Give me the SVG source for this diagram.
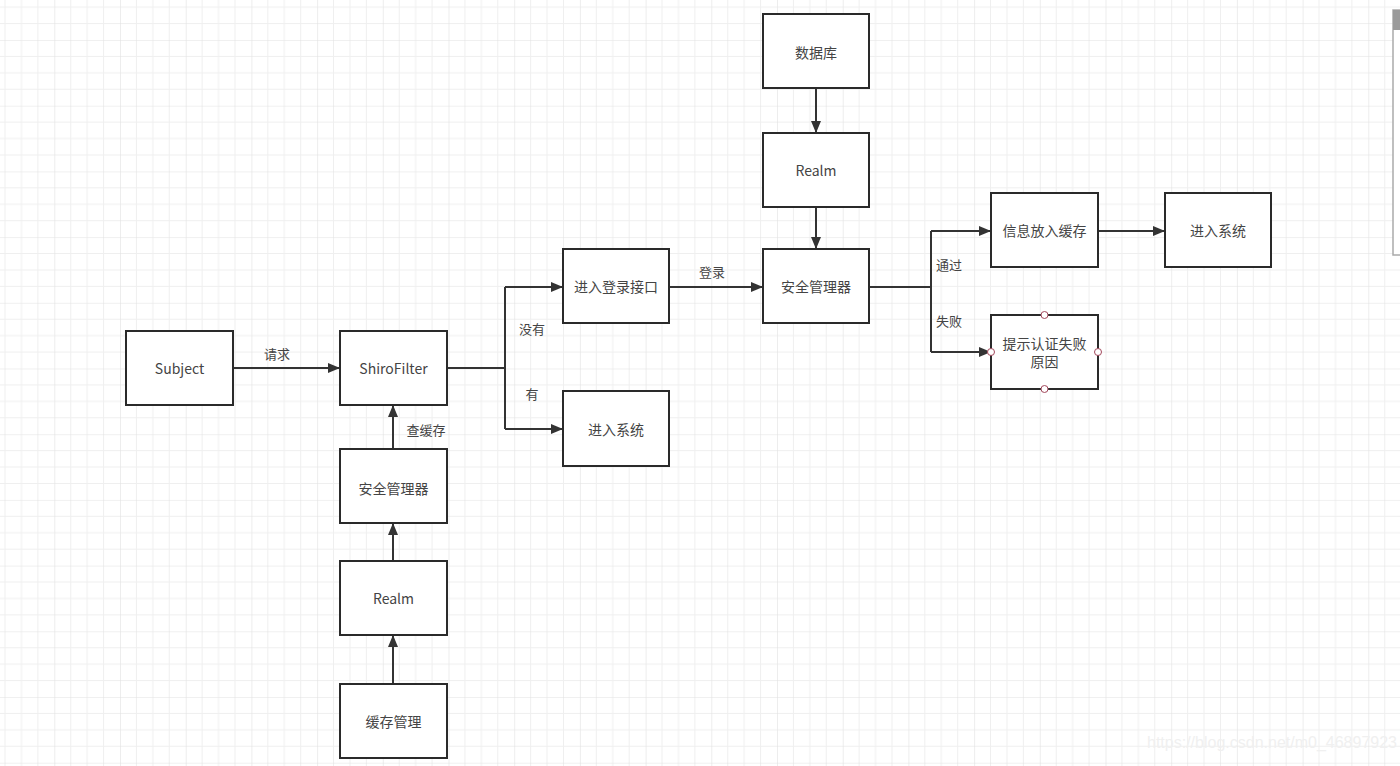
<svg xmlns="http://www.w3.org/2000/svg" width="1400" height="766" viewBox="0 0 1400 766">
<defs>
<pattern id="grid" x="-11.4" y="-25.7" width="65.7" height="65.7" patternUnits="userSpaceOnUse">
<path d="M16.42 0V65.7M32.85 0V65.7M49.27 0V65.7M0 16.42H65.7M0 32.85H65.7M0 49.27H65.7" stroke="#efefef" stroke-width="1" fill="none"/>
<path d="M0 0V65.7M0 0H65.7" stroke="#e2e2e2" stroke-width="1.2" fill="none"/>
</pattern>
<marker id="arr" viewBox="0 0 12 10" refX="12" refY="5" markerWidth="12" markerHeight="10" markerUnits="userSpaceOnUse" orient="auto">
<path d="M0 0L12 5L0 10Z" fill="#333"/>
</marker>
<style>
.box{fill:#fff;stroke:#2a2a2a;stroke-width:2}
.t{font-family:"Noto Sans CJK SC","Noto Sans",sans-serif;font-size:14px;fill:#444;text-anchor:middle;dominant-baseline:central}
.lbl{font-family:"Noto Sans CJK SC","Noto Sans",sans-serif;font-size:13px;fill:#444;text-anchor:middle;dominant-baseline:central}
.c{fill:none;stroke:#333;stroke-width:2}
.h{fill:#fff;stroke:#a3485c;stroke-width:1}
</style>
</defs>
<rect width="1400" height="766" fill="#fff"/>
<rect width="1400" height="766" fill="url(#grid)"/>

<g id="connectors">
<path class="c" d="M233 368H340" marker-end="url(#arr)"/>
<path class="c" d="M447 368H505M505 287V429"/>
<path class="c" d="M505 287H563" marker-end="url(#arr)"/>
<path class="c" d="M505 429H563" marker-end="url(#arr)"/>
<path class="c" d="M393 449V405" marker-end="url(#arr)"/>
<path class="c" d="M393 561V523" marker-end="url(#arr)"/>
<path class="c" d="M393 684V635" marker-end="url(#arr)"/>
<path class="c" d="M669 287H763" marker-end="url(#arr)"/>
<path class="c" d="M816 88V133" marker-end="url(#arr)"/>
<path class="c" d="M816 207V249" marker-end="url(#arr)"/>
<path class="c" d="M869 287H931M931 231V352"/>
<path class="c" d="M931 231H991" marker-end="url(#arr)"/>
<path class="c" d="M931 352H991" marker-end="url(#arr)"/>
<path class="c" d="M1098 231H1165" marker-end="url(#arr)"/>
<text class="lbl" x="277" y="353">请求</text>
<text class="lbl" x="532" y="328">没有</text>
<text class="lbl" x="532" y="393">有</text>
<text class="lbl" x="426" y="429">查缓存</text>
<text class="lbl" x="712" y="271">登录</text>
<text class="lbl" x="949" y="264">通过</text>
<text class="lbl" x="949" y="320">失败</text>
</g>

<g id="subject"><rect class="box" x="126" y="331" width="107" height="74"/><text class="t" x="179.5" y="368">Subject</text></g>
<g id="shirofilter"><rect class="box" x="340" y="331" width="107" height="74"/><text class="t" x="393.5" y="368">ShiroFilter</text></g>
<g id="secmgr-left"><rect class="box" x="340" y="449" width="107" height="74"/><text class="t" x="393.5" y="488">安全管理器</text></g>
<g id="realm-left"><rect class="box" x="340" y="561" width="107" height="74"/><text class="t" x="393.5" y="598">Realm</text></g>
<g id="cache-mgr"><rect class="box" x="340" y="684" width="107" height="74"/><text class="t" x="393.5" y="721">缓存管理</text></g>
<g id="login"><rect class="box" x="563" y="249" width="106" height="74"/><text class="t" x="616" y="286">进入登录接口</text></g>
<g id="enter-mid"><rect class="box" x="563" y="391" width="106" height="75"/><text class="t" x="616" y="429">进入系统</text></g>
<g id="database"><rect class="box" x="763" y="14" width="106" height="74"/><text class="t" x="816" y="52">数据库</text></g>
<g id="realm-top"><rect class="box" x="763" y="133" width="106" height="74"/><text class="t" x="816" y="170">Realm</text></g>
<g id="secmgr-right"><rect class="box" x="763" y="249" width="106" height="74"/><text class="t" x="816" y="286">安全管理器</text></g>
<g id="cache-info"><rect class="box" x="991" y="193" width="107" height="74"/><text class="t" x="1044.5" y="230">信息放入缓存</text></g>
<g id="enter-right"><rect class="box" x="1165" y="193" width="106" height="74"/><text class="t" x="1218" y="230">进入系统</text></g>
<g id="fail"><rect class="box" x="991" y="315" width="107" height="74"/>
<text class="t" x="1044.5" y="343">提示认证失败</text><text class="t" x="1044.5" y="361">原因</text>
<circle class="h" cx="1044.5" cy="315" r="3.5"/><circle class="h" cx="1044.5" cy="389" r="3.5"/><circle class="h" cx="991" cy="352" r="3.5"/><circle class="h" cx="1098" cy="352" r="3.5"/>
</g>

<g id="panel">
<rect x="1393" y="10" width="12" height="245" fill="#fff" stroke="#aaa" stroke-width="1.5"/>
<rect x="1393" y="10" width="12" height="20" fill="#9a9a9a"/>
</g>
<text x="1272" y="748" font-family="Liberation Sans, sans-serif" font-size="16" fill="#f0f0f0" text-anchor="middle">https://blog.csdn.net/m0_46897923</text>
</svg>
